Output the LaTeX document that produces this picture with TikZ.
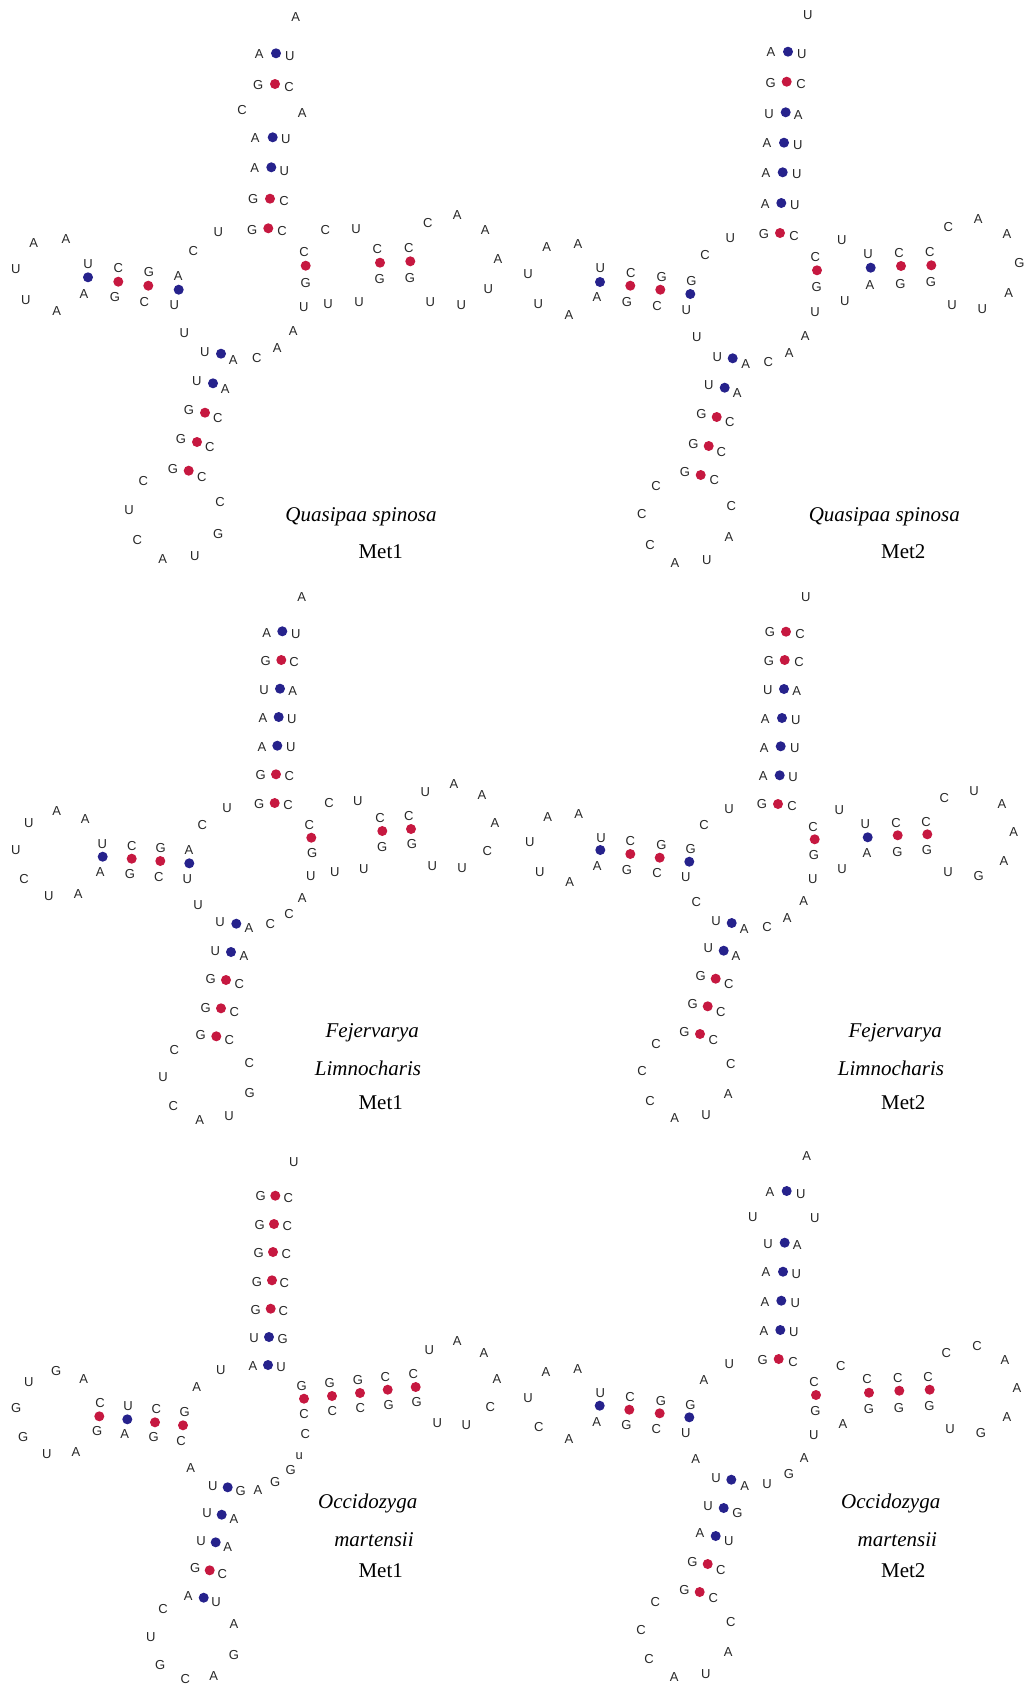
\documentclass[tikz,border=0pt]{standalone}
\usepackage{fontspec}
\newfontfamily\nucfam{Liberation Sans}
\newfontfamily\labfam{Liberation Serif}
\definecolor{nucgray}{RGB}{40,40,40}
\definecolor{pairblue}{RGB}{38,34,140}
\definecolor{pairred}{RGB}{198,24,64}
\newcounter{nk}
\tikzset{
  nuc/.style={font=\nucfam\fontsize{13}{15}\selectfont, text=nucgray, inner sep=0pt},
  dotbase/.style={circle, minimum size=10pt, inner sep=0pt, draw=none},
  bluedot/.style={dotbase, fill=pairblue},
  reddot/.style={dotbase, fill=pairred},
  species/.style={font=\labfam\itshape\fontsize{21}{24}\selectfont, inner sep=0pt},
  metlabel/.style={font=\labfam\fontsize{21}{24}\selectfont, inner sep=0pt}
}
% bases: x/y/letter ; paired dots: x/y
\newcommand\Nt[1]{\foreach \x/\y/\t in {#1}{\stepcounter{nk}\node[nuc] (n\thenk) at (\x,\y) {\t};}}
\newcommand\Bd[1]{\foreach \x/\y in {#1}{\stepcounter{nk}\node[bluedot] (d\thenk) at (\x,\y) {};}}
\newcommand\Rd[1]{\foreach \x/\y in {#1}{\stepcounter{nk}\node[reddot] (d\thenk) at (\x,\y) {};}}
\begin{document}
\begin{tikzpicture}[x=1pt,y=-1pt]
\fill[white] (0,0) rectangle (1025,1686);
\useasboundingbox (0,0) rectangle (1025,1686);

% ---------------- Quasipaa spinosa Met1 ----------------
\Nt{295.7/17.3/A, 259.3/54/A, 289.7/56/U, 258.3/85.3/G, 289/86.7/C, 242/110.3/C, 302.3/112.7/A,
    255.3/138.3/A, 285.7/139.3/U, 254.7/168.3/A, 284.3/170.7/U, 253.3/199.3/G, 284/200.7/C,
    252.3/230/G, 282/230.7/C, 218.3/232.3/U, 193.3/250.7/C,
    325.3/230/C, 356/228.7/U, 427.7/222.7/C, 457.3/214.7/A, 485.3/229.7/A, 498/258.7/A,
    488.3/288.7/U, 461.3/305.3/U, 430.3/301.7/U, 359/302/U, 328/303.7/U, 303.7/307.3/U,
    304/252.3/C, 305.7/282.7/G, 377.3/248.7/C, 379.7/279.3/G, 408.7/247.7/C, 410/277.7/G,
    33.7/242.7/A, 66/239.3/A, 15.7/269.3/U, 25.7/300/U, 56.7/310.7/A,
    88/264/U, 84/294/A, 118.3/267.7/C, 115/297.3/G, 149/271.7/G, 144.3/302/C, 178.3/275.7/A, 174.3/305.3/U,
    184.3/332.7/U, 204.7/352/U, 233.3/359.7/A, 256.7/357.7/C, 277.3/348/A, 293.3/330.7/A,
    196.7/381/U, 225.3/388.7/A, 189/410/G, 217.7/417.7/C, 181/439/G, 209.7/446.7/C,
    173/469.3/G, 201.7/476.7/C, 143.3/481/C, 129/510/U, 137.3/540/C, 162.7/558.7/A,
    194.7/556/U, 218.3/534.3/G, 220/502/C}
\Bd{276/53.3, 272.7/137.3, 271.3/167.3, 88/277.3, 178.7/289.7, 221/353.7, 213/383.3}
\Rd{275/84, 270/198.7, 268.3/228.3, 305.7/265.7, 380/262.7, 410.3/261.3, 118.3/281.7, 148.3/285.7,
    205/412.7, 197/442, 188.7/470.7}
\node[species] (sp1) at (361,516.7) {Quasipaa spinosa};
\node[metlabel] (mt1) at (380.7,551.7) {Met1};

% ---------------- Quasipaa spinosa Met2 ----------------
\Nt{807.7/15.3/U, 771/52/A, 801.7/54/U, 770.7/82.7/G, 801/83.7/C, 769/113.7/U, 798.3/114.7/A,
    767/143/A, 797.7/144.7/U, 766/173.3/A, 796.7/174.3/U, 765.3/204/A, 794.7/205/U,
    764/233.7/G, 794/235.7/C, 730.3/237.7/U, 705/255.3/C,
    841.7/239.7/U, 815.3/257/C, 816.7/286.7/G, 868/254.3/U, 870/284.7/A, 899/253.3/C, 900.3/283.7/G,
    929.7/252/C, 931/282/G, 948.3/226.7/C, 978.3/219.3/A, 1007/233.7/A, 1019.3/262.7/G,
    1008.7/292.7/A, 982.3/309.3/U, 952/305.3/U, 844.7/301.3/U, 815/312.3/U,
    546.7/247/A, 578/244.3/A, 528/273.7/U, 538.3/304/U, 569/315.3/A,
    600.3/268.3/U, 597/297.3/A, 630.7/272.7/C, 627/302/G, 661.7/276.7/G, 657/306/C, 691.3/281/G, 686.3/310/U,
    696.7/336.7/U, 717.3/356.7/U, 745.7/364/A, 768.3/362/C, 789.3/352.7/A, 805.3/335.7/A,
    708.7/385/U, 737.3/392.7/A, 701.3/414.3/G, 729.7/422.3/C, 693.3/444/G, 721.3/451.7/C,
    685/472.3/G, 714.3/480.3/C, 656/485.7/C, 641.7/514/C, 650/545/C, 675/563.3/A,
    706.7/560/U, 729/537.3/A, 731.3/506/C}
\Bd{788/51.7, 785.7/112.3, 784/142.7, 782.7/172.3, 781.3/203, 870.7/267.7, 600/282, 690.3/294,
    732.7/358.3, 724.7/387.7}
\Rd{786.7/81.7, 780/233, 817/270.3, 901/266, 931.3/265.3, 630.3/285.7, 660.3/289.7,
    716.7/417, 708.7/446, 700.7/475}
\node[species] (sp2) at (884.3,516.7) {Quasipaa spinosa};
\node[metlabel] (mt2) at (903.3,551.7) {Met2};

% ---------------- Fejervarya limnocharis Met1 ----------------
\Nt{301.7/597/A, 266.7/632.7/A, 295.7/633.7/U, 265.7/661/G, 294/662.3/C, 264/690/U, 292.7/690.7/A,
    263/718.3/A, 291.7/719/U, 262/746.7/A, 290.7/747.3/U, 260.7/775/G, 289.3/776/C,
    259.3/803.7/G, 288/804.7/C, 227/808.3/U, 202.3/825/C,
    329/802.7/C, 357.7/801/U, 309.3/825/C, 312.3/853/G, 380/818.3/C, 382.3/846.7/G, 408.7/816/C, 412/844.3/G,
    425.3/792/U, 454/784/A, 482/795.3/A, 495/823.3/A, 487.3/851.3/C, 462/868/U, 432.3/866/U,
    363.7/869.3/U, 334.7/872/U, 310.7/876/U,
    28.7/823/U, 56.7/811.3/A, 85.3/819.3/A, 15.7/850.3/U, 24/879/C, 48.7/895.7/U, 78.3/893.7/A,
    102.3/843.7/U, 100.3/872.3/A, 131.7/845.7/C, 130/874/G, 160.7/848.3/G, 158.7/876.7/C, 189/850.3/A, 187.3/879/U,
    198/905.3/U, 220/922.3/U, 249/928/A, 270.3/924/C, 289/914/C, 302.3/897.7/A,
    215.3/951/U, 244/955.7/A, 210.7/979/G, 239.3/984/C, 205.7/1007.7/G, 234.3/1012.3/C,
    200.7/1035.3/G, 229.3/1040/C, 174.3/1050/C, 163/1077.3/U, 173.3/1105.7/C, 199.7/1120.3/A,
    229/1115.7/U, 249.7/1093/G, 249.3/1062.7/C}
\Bd{282.3/631.3, 280/688.7, 278.7/717, 277.3/745.7, 102.7/856.7, 189.3/863.3, 236.3/923.7, 231/952}
\Rd{281.3/660, 276/774.3, 274.7/803, 311.3/837.7, 382.3/831, 411/829, 131.7/858.7, 160.3/861,
    226/980, 221/1008.3, 216.3/1036.3}
\node[species] (sp3) at (372.3,1032.7) {Fejervarya};
\node[species] (sp3b) at (368,1068.3) {Limnocharis};
\node[metlabel] (mt3) at (380.7,1102.3) {Met1};

% ---------------- Fejervarya limnocharis Met2 ----------------
\Nt{805.7/597/U, 770/632/G, 800/633.7/C, 769/661/G, 799/661.7/C, 767.7/690.3/U, 796.7/691/A,
    765.3/718.7/A, 795.7/719.7/U, 764.3/747.7/A, 794.7/748/U, 763.3/776.3/A, 793/777.3/U,
    762/804.3/G, 792/806.3/C, 729/808.7/U, 704/825/C,
    839.3/810.3/U, 813/826.7/C, 814/854.7/G, 865.3/823.7/U, 867/852.7/A, 896/823/C, 897.3/851.7/G,
    926/821.7/C, 927/850/G, 944.3/797.7/C, 974/791/U, 1002/804.3/A, 1013.7/831.7/A,
    1004/861/A, 978.7/876/G, 948/872.3/U, 842/868.7/U, 812.7/879.3/U,
    547.7/817/A, 578.7/814/A, 529.7/842.3/U, 539.7/871.7/U, 569.7/882/A,
    601/837.7/U, 597.3/865.7/A, 630.3/841.3/C, 627/869.7/G, 661.3/845/G, 657/873.3/C, 690.7/849/G, 685.7/877.3/U,
    696.3/902.3/C, 716/921/U, 744.3/928.7/A, 767/927/C, 787.3/918/A, 803.7/901.3/A,
    708.3/948/U, 736/956/A, 700.7/976.3/G, 728.7/984/C, 692.7/1004.3/G, 720.7/1012.3/C,
    684.3/1031.7/G, 713.3/1039.7/C, 656/1044.3/C, 642/1071.3/C, 650/1100.7/C, 674.7/1117.7/A,
    706/1115/U, 728.3/1094/A, 730.7/1063.7/C}
\Bd{784/689, 782/718, 780.7/746.3, 779.7/775.3, 867.7/837.3, 600.3/850, 689.3/861.7,
    731.7/923, 723.7/950.7}
\Rd{786/631.7, 784.7/660, 778/804, 814.7/839.3, 897.7/835.3, 927.3/834.3, 630.3/854, 659.7/857.7,
    715.7/978.7, 707.7/1006.3, 700/1034}
\node[species] (sp4) at (895.3,1032.7) {Fejervarya};
\node[species] (sp4b) at (891,1068.3) {Limnocharis};
\node[metlabel] (mt4) at (903.3,1102.3) {Met2};

% ---------------- Occidozyga martensii Met1 ----------------
\Nt{293.7/1162/U, 260.7/1196/G, 288.3/1198/C, 259.7/1225.3/G, 287.3/1226/C, 258.7/1253.3/G, 286.3/1254.3/C,
    257/1281.7/G, 284.3/1282.7/C, 255.7/1309.7/G, 283.3/1310.7/C, 254/1338/U, 282.7/1339/G,
    253/1366.3/A, 281/1367.3/U, 220.7/1370/U, 196.7/1387/A,
    301.7/1386/G, 304/1414/C, 329.7/1383/G, 332.3/1411/C, 358/1380/G, 360.3/1408.3/C,
    385.3/1377.3/C, 388.7/1405.3/G, 413.3/1374.3/C, 416.7/1402.3/G,
    429.3/1350/U, 457.3/1341/A, 484/1352.7/A, 497/1379/A, 490.3/1407/C, 466.3/1425/U, 437.3/1423/U,
    305.3/1434/C, 299.3/1455.7/u, 290.7/1470.3/G, 275.3/1482.3/G, 258/1489.7/A,
    28.7/1381.7/U, 56.3/1370.7/G, 83.7/1378.7/A, 16.3/1408/G, 23.3/1437.3/G, 46.7/1454.3/U, 76/1452.3/A,
    100/1403/C, 97.3/1431.3/G, 128/1406.3/U, 124.7/1434/A, 156.3/1409/C, 153.7/1437.3/G, 184.7/1412.3/G, 181/1440.7/C,
    190.7/1467.7/A, 212.7/1486.3/U, 240.7/1491.3/G, 207/1513/U, 234/1519/A, 201/1541.3/U, 227.7/1547/A,
    195.3/1568/G, 222.3/1574/C, 188.3/1596/A, 216/1602.3/U,
    163/1609.3/C, 150.7/1637/U, 160.3/1665/G, 185.3/1679.3/C, 213.7/1675.7/A, 234/1655/G, 234/1624.3/A}
\Bd{269/1337, 268/1365, 127.3/1419.3, 227.7/1487.3, 221.7/1514.7, 215.7/1542.3, 203.7/1597.7}
\Rd{275.3/1195.7, 274/1224, 273/1252, 272/1280.3, 270.7/1308.7, 304/1398.7, 332/1396, 360/1393,
    387.7/1389.7, 415.7/1387, 99.3/1416.3, 155/1422.3, 183/1425.3, 209.7/1570.3}
\node[species] (sp5) at (367.7,1503.3) {Occidozyga};
\node[species] (sp5b) at (374,1539.3) {martensii};
\node[metlabel] (mt5) at (380.7,1570.7) {Met1};

% ---------------- Occidozyga martensii Met2 ----------------
\Nt{806.7/1156.3/A, 770/1192/A, 800.7/1193.7/U, 752.7/1216.7/U, 814.7/1218.3/U, 768/1244.3/U, 797.3/1245/A,
    766/1272.3/A, 796.3/1274.3/U, 765/1301.7/A, 795.3/1302.7/U, 764/1331.3/A, 793.7/1332/U,
    762.7/1359.7/G, 793/1361.7/C, 729.3/1363.7/U, 704/1380/A,
    840.7/1365.7/C, 814/1382.3/C, 815.3/1410.7/G, 867/1379/C, 869/1408.7/G, 897.7/1378.3/C, 899/1407.7/G,
    928/1377.3/C, 929.3/1405.7/G, 946.3/1352.7/C, 977/1345.7/C, 1005/1359.7/A, 1017/1387.7/A,
    1007/1416.7/A, 981/1432.7/G, 950/1429/U, 843/1424.3/A, 813.7/1435.3/U,
    546/1372.3/A, 577.7/1369.3/A, 528/1398/U, 538.7/1427.3/C, 569/1439.3/A,
    600.3/1393.3/U, 596.7/1421.7/A, 630/1397/C, 626.3/1425.3/G, 661/1400.7/G, 656.3/1429.3/C, 690.3/1404.7/G, 685.7/1433.3/U,
    695.7/1459/A, 716/1477.7/U, 744.7/1485.7/A, 767/1483.7/U, 789/1474.3/G, 804.3/1458.3/A,
    708/1505.7/U, 737.3/1513/G, 700/1533.3/A, 728.7/1541.3/U, 692.3/1562.3/G, 720.7/1570.3/C,
    684.3/1590/G, 713.3/1597.7/C, 655.3/1602.3/C, 641/1630/C, 649/1659/C, 674.3/1677/A,
    705.7/1674.3/U, 728.3/1652.3/A, 730.7/1621.7/C}
\Bd{786.7/1191, 784.7/1242.7, 783/1271.7, 781.3/1300.7, 780.3/1330, 599.7/1405.7, 689.3/1417.3,
    731.3/1479.7, 723.7/1508, 715.7/1536}
\Rd{778.7/1359, 816/1395, 869/1392.7, 899.3/1390.7, 929.7/1389.7, 629.3/1409.7, 659.7/1413.3,
    707.7/1564, 699.7/1592}
\node[species] (sp6) at (890.7,1503.3) {Occidozyga};
\node[species] (sp6b) at (897.3,1539.3) {martensii};
\node[metlabel] (mt6) at (903.3,1570.7) {Met2};
\end{tikzpicture}
\end{document}
